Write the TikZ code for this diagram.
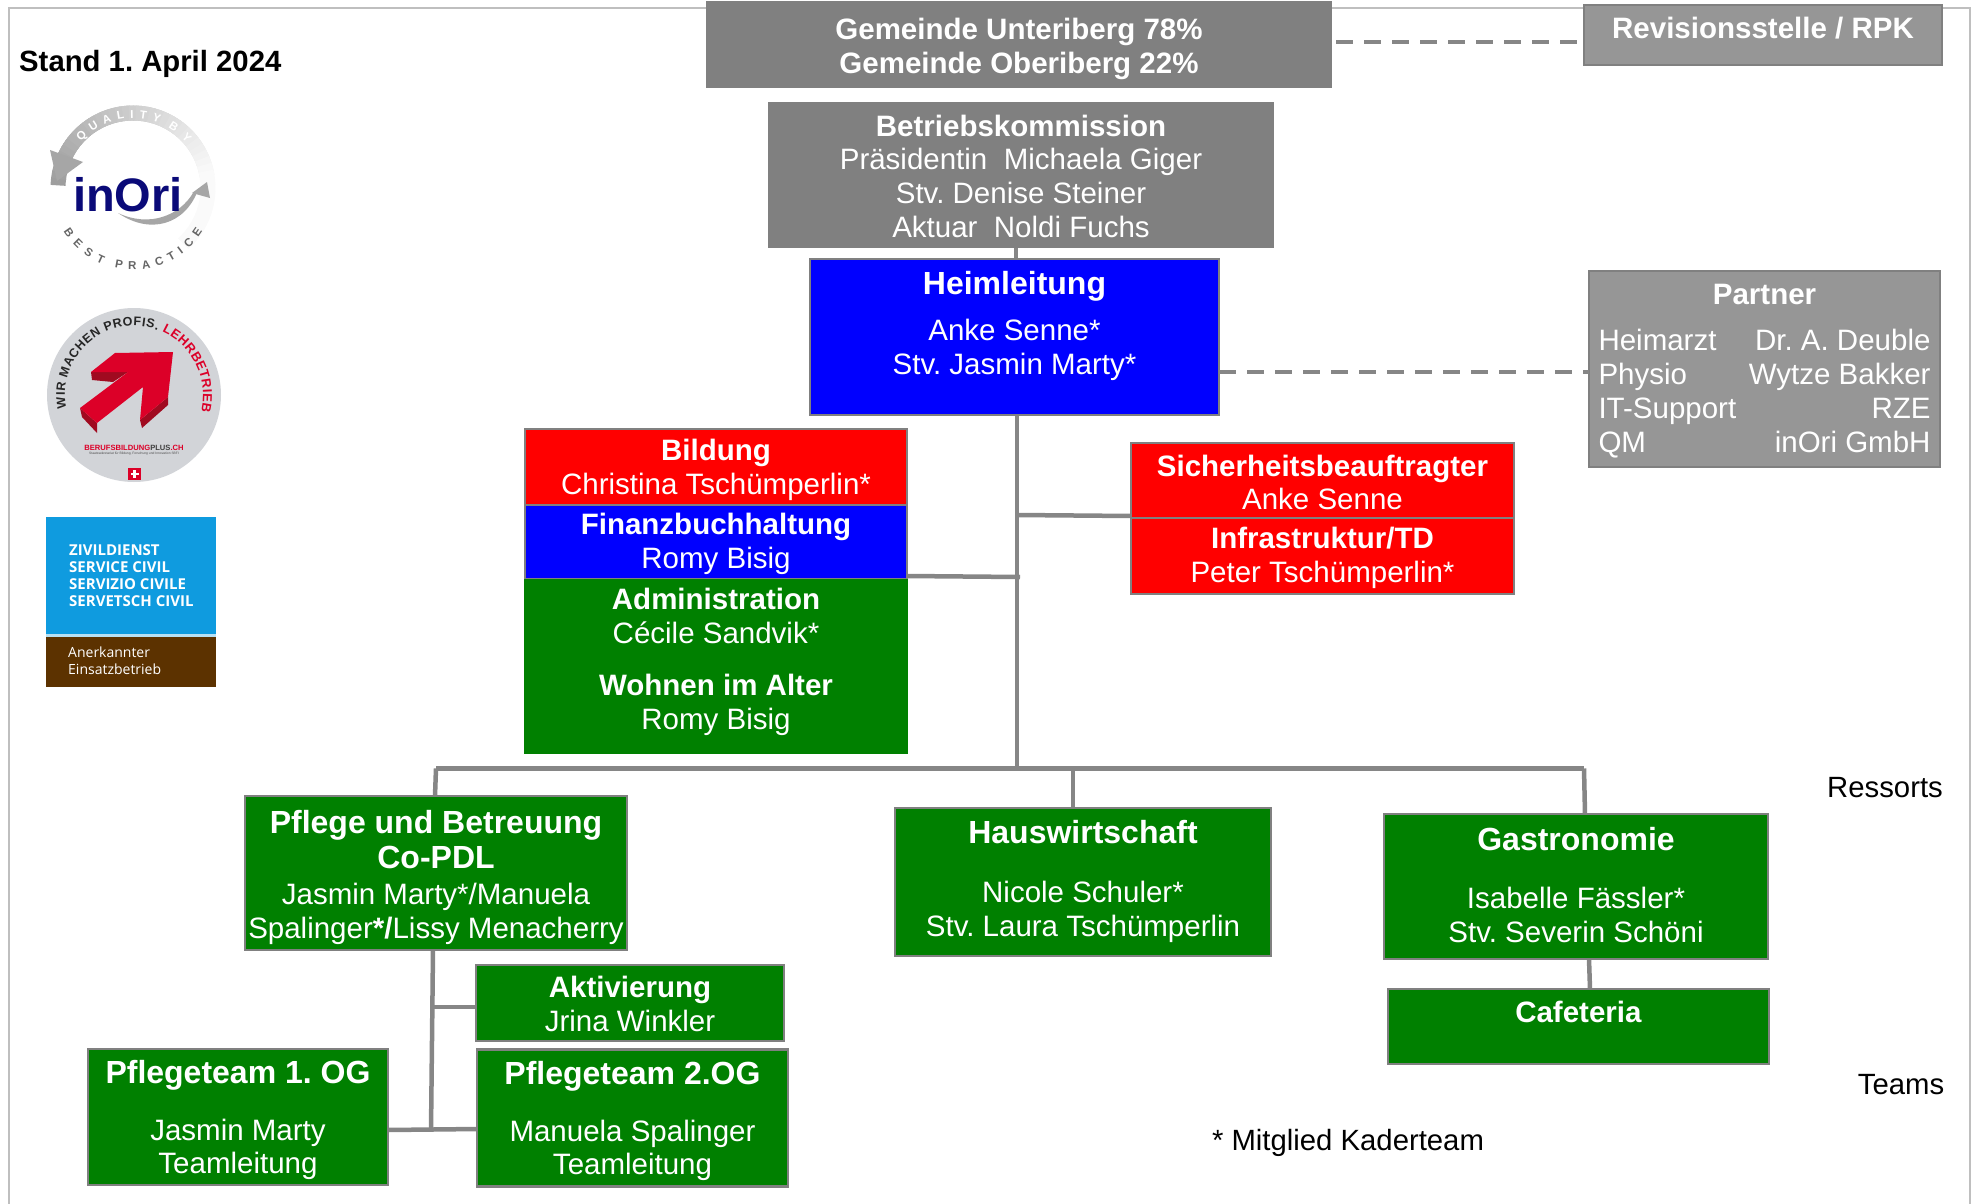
\documentclass[tikz,border=0pt]{standalone}
\usepackage{fontspec}
\setmainfont{Liberation Sans}
\newfontfamily\logofont{Open Sans}
\usetikzlibrary{positioning}
\usetikzlibrary{decorations.text}
\definecolor{boxgray}{HTML}{808080}
\definecolor{lightgray}{HTML}{969696}
\definecolor{linegray}{HTML}{868686}
\definecolor{framegray}{HTML}{BFBFBF}
\definecolor{orgred}{HTML}{FF0000}
\definecolor{orgblue}{HTML}{0000FF}
\definecolor{orggreen}{HTML}{008000}
\definecolor{inorinavy}{HTML}{0A0A78}
\definecolor{badgegray}{HTML}{D2D4D8}
\definecolor{badgered}{HTML}{DC0028}
\definecolor{badgedark}{HTML}{A00A20}
\definecolor{zivilblue}{HTML}{0F9BDF}
\definecolor{zivilbrown}{HTML}{5C3200}
\newcommand{\headtext}[1]{{\fontsize{32}{36}\selectfont\bfseries #1}}
\newcommand{\partnerline}[2]{\makebox[332pt]{#1\hfill #2}}
\frenchspacing

\begin{document}
\begin{tikzpicture}[x=1pt,y=1pt,
	orgbox/.style={rectangle,draw=boxgray,line width=2.5pt,outer sep=0pt,inner sep=0pt,text=white,align=center,font=\fontsize{29.5}{33.8}\selectfont},
	graybox/.style={orgbox,fill=boxgray},
	paleBox/.style={orgbox,fill=lightgray},
	redbox/.style={orgbox,fill=orgred},
	bluebox/.style={orgbox,fill=orgblue},
	greenbox/.style={orgbox,fill=orggreen},
	flatbox/.style={orgbox,fill=orggreen,draw=none},
	plaintext/.style={inner sep=0pt,text=black,font=\fontsize{29.3}{33.8}\selectfont},
	orgline/.style={draw=linegray,line width=4.5pt},
	dashline/.style={draw=linegray,line width=4.5pt,dash pattern=on 17pt off 11pt},
	zivtext/.style={inner sep=0pt,anchor=west,align=left,text=white,font=\logofont\bfseries\fontsize{15}{17}\selectfont}]
	
	\useasboundingbox (0,0) rectangle (1973,-1204);
	\draw[framegray,line width=2.5pt] (9,-1204) -- (9,-8) -- (1970,-8) -- (1970,-1204);
	
	% connectors
	\coordinate (bus left) at (436,-768.5);
	\coordinate (bus right) at (1584,-768.5);
	\coordinate (bus main) at (1017,-768.5);
	\coordinate (bus mid) at (1073,-768.5);
	\coordinate (main sec) at (1017,-515);
	\coordinate (main adm) at (1020,-577);
	\coordinate (team top) at (433,-950);
	\coordinate (team act) at (432,-1007);
	\coordinate (team low) at (431,-1131);
	\draw[orgline] (bus left) -- (bus right);
	\draw[orgline] (1016,-247) -- (1016,-259);
	\draw[orgline] (1017,-415) -- (bus main);
	\draw[orgline] (main sec) -- (1131,-516);
	\draw[orgline] (907,-576) -- (main adm);
	\draw[orgline] (bus left) -- (435,-796);
	\draw[orgline] (bus mid) -- (1073,-808);
	\draw[orgline] (bus right) -- (1585,-814);
	\draw[orgline] (1589,-959) -- (1590,-989);
	\draw[orgline] (team top) -- (team low);
	\draw[orgline] (team act) -- (476,-1007);
	\draw[orgline] (388,-1130) -- (477,-1129);
	
	% top of the chart
	\node[graybox,minimum width=624pt,minimum height=85pt] (gemeinde) at (1019,-44.5) {\textbf{Gemeinde Unteriberg 78\%}\\\textbf{Gemeinde Oberiberg 22\%}\\[-35.8pt]\mbox{}};
	\node[paleBox,minimum width=358pt,minimum height=60pt] (revision) at (1763,-35) {\textbf{Revisionsstelle / RPK}\\[-18.5pt]\mbox{}};
	\node[graybox,minimum width=504pt,minimum height=144pt] (kommission) at (1021,-175) {\textbf{Betriebskommission}\\Präsidentin\ \ Michaela Giger\\Stv. Denise Steiner\\Aktuar\ \ Noldi Fuchs\\[-36pt]\mbox{}};
	\node[bluebox,minimum width=409pt,minimum height=156pt] (heim) at (1014.5,-337) {\headtext{Heimleitung}\\[12pt]Anke Senne*\\Stv. Jasmin Marty*\\[-6pt]\mbox{}};
	\node[paleBox,minimum width=351pt,minimum height=196pt] (partner) at (1764.5,-369) {\textbf{Partner}\\[12pt]\partnerline{Heimarzt}{Dr. A. Deuble}\\\partnerline{Physio}{Wytze Bakker}\\\partnerline{IT-Support}{RZE}\\\partnerline{QM}{inOri GmbH}\\[-32.6pt]\mbox{}};
	\draw[dashline] (gemeinde.east |- 0,-42) ++(5,0) -- (1580,-42);
	\draw[dashline] (heim.east |- 0,-372) -- (partner.west |- 0,-372);
	
	% staff boxes
	\node[redbox,minimum width=382pt,minimum height=76pt] (bildung) at (716,-467) {\textbf{Bildung}\\Christina Tschümperlin*\\[-33.4pt]\mbox{}};
	\node[bluebox,minimum width=382pt,minimum height=74pt,below=0pt of bildung] (finanz) {\textbf{Finanzbuchhaltung}\\Romy Bisig\\[-31pt]\mbox{}};
	\node[flatbox,minimum width=384pt,minimum height=76pt,below=0pt of finanz] (admin) {\textbf{Administration}\\Cécile Sandvik*\\[-31pt]\mbox{}};
	\node[flatbox,minimum width=384pt,minimum height=99pt,below=0pt of admin] (wohnen) {\textbf{Wohnen im Alter}\\Romy Bisig\\[-29pt]\mbox{}};
	\node[redbox,minimum width=383pt,minimum height=75pt] (sicher) at (1322.5,-480.5) {\textbf{Sicherheitsbeauftragter}\\Anke Senne\\[-37.4pt]\mbox{}};
	\node[redbox,minimum width=383pt,minimum height=76pt,below=0pt of sicher] (infra) {\textbf{Infrastruktur/TD}\\Peter Tschümperlin*\\[-31pt]\mbox{}};
	
	% ressorts
	\node[greenbox,minimum width=382pt,minimum height=154pt] (pflege) at (436,-873) {\headtext{Pflege und Betreuung}\\[2pt]\headtext{Co-PDL}\\[2pt]Jasmin Marty*/Manuela\\Spalinger\textbf{*/}Lissy Menacherry\\[-36pt]\mbox{}};
	\node[greenbox,minimum width=376pt,minimum height=148pt] (haus) at (1083,-882) {\headtext{Hauswirtschaft}\\[25.5pt]Nicole Schuler*\\Stv. Laura Tschümperlin\\[-26pt]\mbox{}};
	\node[greenbox,minimum width=384pt,minimum height=145pt] (gastro) at (1576,-886.5) {\headtext{Gastronomie}\\[24pt]Isabelle Fässler*\\Stv. Severin Schöni\\[-30.4pt]\mbox{}};
	\node[greenbox,minimum width=381pt,minimum height=75pt] (cafeteria) at (1578.5,-1026.5) {\textbf{Cafeteria}\\[-4.6pt]\mbox{}};
	\node[greenbox,minimum width=308pt,minimum height=76pt] (aktiv) at (630,-1003) {\textbf{Aktivierung}\\Jrina Winkler\\[-36pt]\mbox{}};
	\node[greenbox,minimum width=300pt,minimum height=136pt] (team one) at (238,-1117) {\headtext{Pflegeteam 1. OG}\\[23pt]Jasmin Marty\\Teamleitung\\[-33.6pt]\mbox{}};
	\node[greenbox,minimum width=311pt,minimum height=137pt] (team two) at (632.5,-1118) {\headtext{Pflegeteam 2.OG}\\[23pt]Manuela Spalinger\\Teamleitung\\[-33.6pt]\mbox{}};
	
	% free texts
	\node[plaintext,anchor=west] (stand) at (19,-63.5) {\textbf{Stand 1. April 2024}};
	\node[plaintext] (ressorts) at (1885,-788) {Ressorts};
	\node[plaintext] (teams) at (1901,-1085) {Teams};
	\node[plaintext] (kader) at (1348,-1143) {* Mitglied Kaderteam};
	
	% inOri logo
	\foreach \a in {160,155,...,15}
		\draw[black!\fpeval{5+(\a-15)*0.22},line width=15pt] (133,-188) ++(\a:75) arc (\a:\a-6:75);
	\foreach \a in {178,173,...,-42}
		\draw[black!\fpeval{max(2,38-(178-\a)*0.22)},line width=15pt] (133,-188) ++(\a:75) arc (\a:\a-6:75);
	\fill[black!35] (50,-150) -- (83,-162) -- (57,-181) -- cycle;
	\fill[black!35] (118,-213) .. controls (150,-235) and (185,-225) .. (198,-190) -- (193,-193) .. controls (180,-215) and (150,-228) .. (118,-213) -- cycle;
	\fill[black!35] (192,-193) -- (207,-182) -- (210,-198) -- cycle;
	\path[decorate,decoration={text along path,text align={fit to path},text={|\bfseries\color{white}\fontsize{11.5}{12}\selectfont|QUALITY}}] (133,-188) ++(138:70) arc (138:68:70);
	\path[decorate,decoration={text along path,text align={fit to path},text={|\bfseries\color{white}\fontsize{11.5}{12}\selectfont|BY}}] (133,-188) ++(60:70) arc (60:40:70);
	\path[decorate,decoration={text along path,text align={fit to path},text={|\bfseries\color{black!60}\fontsize{11.5}{12}\selectfont|BEST}}] (133,-188) ++(212:82) arc (212:248:82);
	\path[decorate,decoration={text along path,text align={fit to path},text={|\bfseries\color{black!60}\fontsize{11.5}{12}\selectfont|PRACTICE}}] (133,-188) ++(257:82) arc (257:328:82);
	\node[inner sep=0pt,text=inorinavy,font=\bfseries\fontsize{47}{47}\selectfont] (inori) at (128,-195) {inOri};
	
	% lehrbetrieb logo
	\fill[badgegray] (134,-395) circle (87);
	\path[decorate,decoration={text along path,text align={fit to path},text={|\bfseries\color{black!85}\fontsize{12.5}{13}\selectfont|WIR MACHEN PROFIS.}}] (134,-395) ++(191:69) arc (191:70:69);
	\path[decorate,decoration={text along path,text align={fit to path},text={|\bfseries\color{badgered}\fontsize{13}{13}\selectfont|LEHRBETRIEB}}] (134,-395) ++(66:69) arc (66:-14:69);
	\fill[badgedark] (91,-372) -- (92,-380) -- (113,-382) -- (128,-372) -- cycle;
	\fill[badgedark] (80,-408) -- (82,-417) -- (97,-433) -- (97,-423) -- cycle;
	\fill[badgedark] (140,-420) -- (142,-428) -- (168,-405) -- (168,-397) -- cycle;
	\fill[badgered] (173,-352) -- (115,-353) -- (91,-372) -- (128,-372) -- (80,-408) -- (97,-423) -- (143,-387) -- (140,-420) -- (168,-397) -- cycle;
	\node[inner sep=0pt,text=badgered,font=\bfseries\fontsize{7.6}{8}\selectfont] (berufs) at (134,-448) {BERUFSBILDUNG{\color{black!75}PLUS}.CH};
	\node[inner sep=0pt,text=black!70,font=\fontsize{3.3}{4}\selectfont] (sbfi) at (134,-454) {Staatssekretariat für Bildung, Forschung und Innovation SBFI};
	\node[rectangle,fill=badgered,minimum size=12.5pt,inner sep=0pt] (flag) at (134.5,-474) {};
	\fill[white] (flag.center) ++(-1.2,-4) rectangle ++(2.4,8);
	\fill[white] (flag.center) ++(-4,-1.2) rectangle ++(8,2.4);
	
	% zivildienst logo
	\fill[white!70!zivilblue] (46,-517) rectangle (216,-637);
	\fill[zivilblue] (46,-517) rectangle (216,-634);
	\fill[zivilbrown] (46,-637) rectangle (216,-687);
	\node[zivtext] (ziv text) at (69,-575.5) {ZIVILDIENST\\SERVICE CIVIL\\SERVIZIO CIVILE\\SERVETSCH CIVIL};
	\node[zivtext,font=\logofont\fontsize{14}{17}\selectfont] (einsatz text) at (68,-660.5) {Anerkannter\\Einsatzbetrieb};
\end{tikzpicture}
\end{document}
